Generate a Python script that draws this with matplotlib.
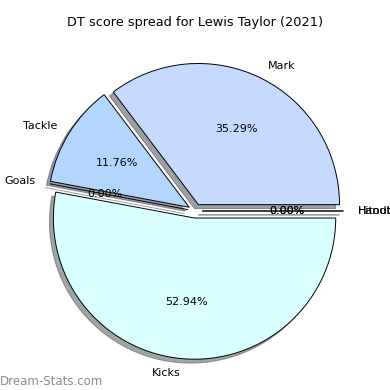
import matplotlib
matplotlib.use("Agg")
import matplotlib.pyplot as plt

labels = ["Mark", "Tackle", "Goals", "Kicks", "Hitout", "Handball"]
values = [6, 2, 0, 9, 0, 0]
colors = ["#c6d9ff", "#b3d6ff", "#c6d9ff", "#d9ffff", "#c6d9ff", "#c6d9ff"]
explode = [0.05, 0.05, 0.05, 0.05, 0.05, 0.05]

fig = plt.figure(figsize=(3.9, 3.9), dpi=100)
ax = fig.add_axes([0.048, 0.004, 0.905, 0.91])
ax.pie(values, labels=labels, colors=colors, explode=explode, shadow=True,
       autopct="%1.2f%%", wedgeprops={"edgecolor": "black", "linewidth": 0.7},
       textprops={"fontsize": 8})
ax.set_title("DT score spread for Lewis Taylor (2021)", fontsize=9.3)
fig.text(0.0, 0.014, "Dream-Stats.com", color="#8c8c8c", fontsize=8.5)
fig.savefig("out.png", dpi=100)
